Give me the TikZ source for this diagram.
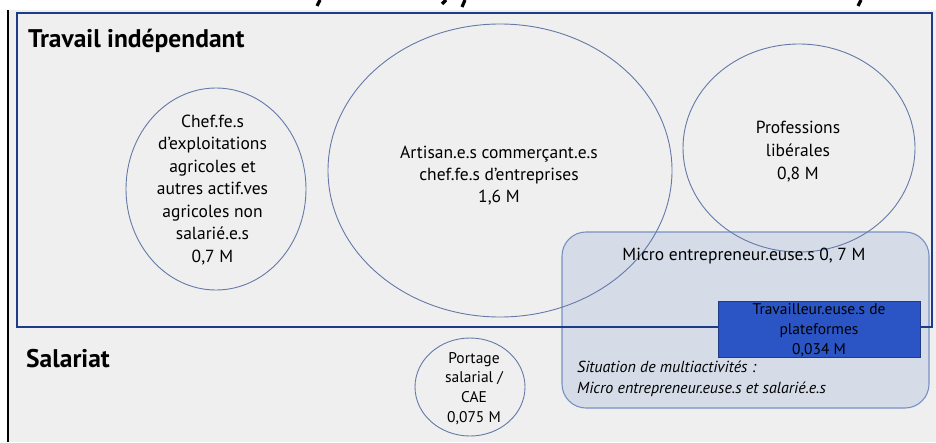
\documentclass[tikz,border=0pt]{standalone}
\usepackage{fontspec}
\setmainfont{PT Sans}
\usetikzlibrary{shapes.geometric}
\definecolor{pagebg}{HTML}{EFEFEF}
\definecolor{frameblue}{HTML}{1F3A87}
\definecolor{ringblue}{HTML}{6579A8}
\definecolor{panelfill}{HTML}{D5DCE8}
\definecolor{panelline}{HTML}{7690C4}
\definecolor{platform}{HTML}{2B55C4}
\tikzset{
  bubble/.style={draw=ringblue, line width=0.9pt, ellipse, inner sep=0pt},
  caption/.style={align=center, text=black, inner sep=0pt,
    font=\fontsize{17.5}{22.5}\selectfont},
  heading/.style={anchor=base west, inner sep=0pt,
    font=\fontsize{25.5}{28}\selectfont\bfseries},
  fragment/.style={line width=3.2pt, black},
}
\begin{document}
\begin{tikzpicture}[x=1pt, y=-1pt]
\useasboundingbox (0,0) rectangle (936,442);
% page background and margin rule
\fill[white] (0,0) rectangle (936,442);
\fill[pagebg] (8,10) rectangle (936,442);
\draw[black, line width=1.4pt] (8,10) -- (8,442);
% descenders of the title line above, cut by the page edge
\draw[fragment] (320,0) -- (317,6);
\draw[fragment] (446,0) -- (442,4);
\draw[fragment] (465,0) -- (462,7);
\draw[fragment] (861,0) -- (858,6);

% micro-entrepreneurs panel (drawn first so the circles show through)
\node[draw=panelline, fill=panelfill, line width=1.1pt, rounded corners=24pt,
      minimum width=367pt, minimum height=176pt, inner sep=0pt]
      (micro) at (745.5,320) {};

% the independent-work circles
\node[bubble, minimum width=180pt, minimum height=202pt] (agri) at (216,189) {};
\node[bubble, minimum width=344pt, minimum height=293pt] (artisan) at (500,170.5) {};
\node[bubble, minimum width=232pt, minimum height=208pt] (liberal) at (799,148) {};
\node[bubble, minimum width=110pt, minimum height=98pt] (portage) at (470,387) {};

% frame of independent work
\node[draw=frameblue, line width=2.8pt, minimum width=915pt, minimum height=314pt,
      inner sep=0pt] (indep) at (474.5,170) {};

% platform workers
\node[draw=frameblue, fill=platform, line width=0.8pt, minimum width=202pt,
      minimum height=56pt, inner sep=0pt] (plateforme) at (819,329) {};

% headings
\node[heading] (titreindep) at (28,47) {Travail indépendant};
\node[heading] (titresal) at (26,367) {Salariat};

% texts
\node[caption] (agriT) at (212.5,190) {Chef.fe.s\\d’exploitations\\agricoles et\\autres actif.ves\\agricoles non\\salarié.e.s\\0,7 M};
\node[caption, font=\fontsize{17.5}{22}\selectfont] (artisanT) at (499,176)
      {Artisan.e.s commerçant.e.s\\chef.fe.s d’entreprises\\1,6 M};
\node[caption, font=\fontsize{17.5}{23}\selectfont] (liberalT) at (798,151.5)
      {Professions\\libérales\\0,8 M};
\node[caption, anchor=base] (microT) at (744,260) {Micro entrepreneur.euse.s 0, 7 M};
\node[caption, font=\fontsize{15.5}{19.8}\selectfont] (plateformeT) at (819,330)
      {Travailleur.euse.s de\\plateformes\\0,034 M};
\node[caption, font=\fontsize{15.5}{19.7}\selectfont] (portageT) at (474,388.5)
      {Portage\\salarial /\\CAE\\0,075 M};
\node[caption, anchor=base west, align=left, font=\fontsize{16}{21}\selectfont\itshape]
      (multiT) at (577,393) {Situation de multiactivités :\\Micro entrepreneur.euse.s et salarié.e.s};
\end{tikzpicture}
\end{document}
